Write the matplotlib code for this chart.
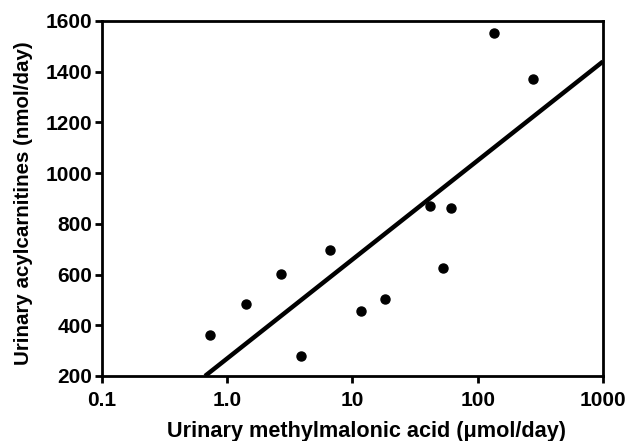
import matplotlib
matplotlib.use("Agg")
import matplotlib.pyplot as plt

# Data
mma = [0.733, 1.42, 2.69, 3.90, 6.58, 11.6, 18.1, 41.6, 53.1, 60.8, 135, 278]
acyl = [363, 483, 602, 279, 697, 456, 502, 870, 625, 864, 1553, 1370]

# Regression line end points
line_x = [0.665, 1000]
line_y = [200, 1440]

x_ticks = [0.1, 1.0, 10, 100, 1000]
x_tick_labels = ["0.1", "1.0", "10", "100", "1000"]
y_ticks = [200, 400, 600, 800, 1000, 1200, 1400, 1600]

plt.rcParams['font.family'] = ['Liberation Sans', 'DejaVu Sans']

fig = plt.figure(figsize=(6.28, 4.41), dpi=100)
ax = fig.add_axes([0.1624, 0.1474, 0.7976, 0.805])

ax.plot(mma, acyl, 'o', color='black', markersize=6.5, zorder=3)
ax.plot(line_x, line_y, '-', color='black', linewidth=3.2, solid_capstyle='butt', zorder=2)

ax.set_xscale('log')
ax.set_xlim(0.1, 1000)
ax.set_ylim(200, 1600)
ax.set_xticks(x_ticks)
ax.set_xticklabels(x_tick_labels)
ax.minorticks_off()
ax.set_yticks(y_ticks)

for s in ax.spines.values():
    s.set_linewidth(2)
ax.tick_params(axis='both', direction='out', length=5, width=2, labelsize=15)
ax.tick_params(axis='x', pad=6)
ax.tick_params(axis='y', pad=2)
for lab in ax.get_xticklabels() + ax.get_yticklabels():
    lab.set_fontweight('bold')

ax.set_xlabel("Urinary methylmalonic acid (\u03bcmol/day)", fontsize=15.6, fontweight='bold')
ax.set_ylabel("Urinary acylcarnitines (nmol/day)", fontsize=14.8, fontweight='bold')
ax.xaxis.set_label_coords(0.529, -0.128)
ax.yaxis.set_label_coords(-0.137, 0.486)

fig.savefig("out.png", dpi=100)
